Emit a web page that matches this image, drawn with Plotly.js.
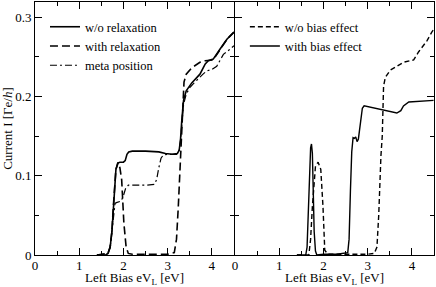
<!DOCTYPE html>
<html>
<head>
<meta charset="utf-8">
<script src="https://cdn.plot.ly/plotly-3.0.1.min.js"></script>
<style>html,body{margin:0;padding:0;background:#fff;}#chart{width:436px;height:287px;}</style>
</head>
<body>
<div id="chart"></div>
<script>
// Left panel: w/o relaxation (solid)
var xNoRelax = [1.4,1.6,1.65,1.7,1.74,1.77,1.8,1.83,1.87,1.92,2.0,2.04,2.08,2.12,2.2,2.5,2.8,2.95,3.1,3.22,3.26,3.29,3.32,3.36,3.42,3.545,3.73,3.85,3.92,4.03,4.19,4.34,4.5];
var yNoRelax = [0,0,0.002,0.01,0.03,0.06,0.09,0.108,0.116,0.117,0.117,0.119,0.127,0.13,0.131,0.131,0.13,0.128,0.127,0.128,0.132,0.145,0.17,0.195,0.207,0.217,0.228,0.241,0.245,0.247,0.26,0.272,0.281];
// Left panel: with relaxation (dashed)
var xRelax = [1.4,1.65,1.7,1.74,1.77,1.8,1.83,1.885,1.92,1.96,2.01,2.06,2.11,2.2,2.5,3.0,3.15,3.2,3.24,3.28,3.31,3.34,3.37,3.42,3.545,3.73,3.85,4.03,4.19,4.34,4.5];
var yRelax = [0,0.002,0.01,0.03,0.06,0.09,0.108,0.117,0.11,0.095,0.04,0.0105,0.002,0.001,0.001,0.001,0.003,0.02,0.06,0.11,0.16,0.2,0.218,0.228,0.236,0.243,0.245,0.246,0.26,0.272,0.281];
// Left panel: meta position (dash-dot)
var xMeta = [1.4,1.65,1.7,1.74,1.77,1.81,1.84,1.9,1.95,2.0,2.05,2.11,2.2,2.5,2.7,2.75,2.8,2.85,2.9,3.0,3.2,3.26,3.29,3.32,3.36,3.42,3.5,3.6,3.7,3.8,3.88,4.0,4.11,4.2,4.26,4.4,4.5];
var yMeta = [0,0.002,0.01,0.03,0.05,0.065,0.066,0.067,0.068,0.075,0.084,0.088,0.088,0.088,0.089,0.095,0.11,0.122,0.126,0.127,0.127,0.132,0.145,0.168,0.19,0.203,0.211,0.217,0.223,0.228,0.232,0.234,0.238,0.246,0.253,0.259,0.264];
// Right panel: w/o bias effect (dashed)
var xNoBias = [1.4,1.67,1.71,1.75,1.82,1.88,1.94,1.99,2.03,2.1,2.5,3.0,3.15,3.21,3.25,3.28,3.3,3.33,3.36,3.4,3.51,3.81,4.04,4.15,4.34,4.45,4.5];
var yNoBias = [0,0,0.02,0.061,0.112,0.117,0.108,0.061,0.006,0.001,0.001,0.001,0.002,0.01,0.05,0.1,0.125,0.15,0.213,0.224,0.233,0.243,0.246,0.256,0.27,0.281,0.285];
// Right panel: with bias effect (solid)
var xBias = [1.4,1.6,1.63,1.66,1.69,1.71,1.73,1.75,1.77,1.79,1.82,1.85,2.0,2.3,2.55,2.58,2.61,2.64,2.67,2.7,2.73,2.76,2.79,2.82,2.85,2.88,2.92,3.0,3.2,3.4,3.66,3.75,3.81,3.93,4.2,4.49];
var yBias = [0,0,0.01,0.06,0.11,0.135,0.14,0.128,0.08,0.03,0.005,0,0.001,0.001,0.003,0.02,0.08,0.13,0.148,0.147,0.149,0.143,0.146,0.16,0.178,0.185,0.188,0.187,0.185,0.182,0.179,0.182,0.188,0.193,0.194,0.195];

var xTickVals = [0,1,2,3,4];
var yTickVals = [0,0.1,0.2,0.3];

var SERIF = '"Liberation Serif", serif';
var traces = [
  {x:xNoRelax, y:yNoRelax, name:'w/o relaxation', xaxis:'x', yaxis:'y', mode:'lines', line:{color:'#000', width:1.6, dash:'solid'}, legend:'legend'},
  {x:xRelax, y:yRelax, name:'with relaxation', xaxis:'x', yaxis:'y', mode:'lines', line:{color:'#000', width:1.6, dash:'8px,4px'}, legend:'legend'},
  {x:xMeta, y:yMeta, name:'meta position', xaxis:'x', yaxis:'y', mode:'lines', line:{color:'#000', width:1.2, dash:'7px,3px,2px,3px'}, legend:'legend'},
  {x:xNoBias, y:yNoBias, name:'w/o bias effect', xaxis:'x2', yaxis:'y2', mode:'lines', line:{color:'#000', width:1.4, dash:'5px,3px'}, legend:'legend2'},
  {x:xBias, y:yBias, name:'with bias effect', xaxis:'x2', yaxis:'y2', mode:'lines', line:{color:'#000', width:1.4, dash:'solid'}, legend:'legend2'}
];

function xax(domain, anchor){
  return {domain:domain, anchor:anchor, range:[0,4.5], tickvals:xTickVals, ticktext:xTickVals.map(String),
    ticks:'inside', ticklen:7, tickwidth:1, tickcolor:'#000', showline:true, linecolor:'#000', linewidth:1, mirror:'ticks',
    minor:{dtick:0.5, tick0:0, ticks:'inside', ticklen:4, tickcolor:'#000', tickwidth:1},
    ticklabelstandoff:-2,
    showgrid:false, zeroline:false, tickfont:{family:SERIF, size:13, color:'#000'},
    title:{text:'Left Bias eV<sub>L</sub> [eV]', font:{family:SERIF, size:13, color:'#000'}, standoff:6}};
}
function yax(anchor, labels){
  return {anchor:anchor, domain:[0,1], range:[0,0.319], tickvals:yTickVals, ticktext:['0','0.1','0.2','0.3'],
    showticklabels:labels,
    ticks:'inside', ticklen:7, tickwidth:1, tickcolor:'#000', showline:true, linecolor:'#000', linewidth:1, mirror:'ticks',
    minor:{dtick:0.05, tick0:0, ticks:'inside', ticklen:4, tickcolor:'#000', tickwidth:1},
    showgrid:false, zeroline:false, tickfont:{family:SERIF, size:13, color:'#000'},
    title: labels ? {text:'Current I [Γe/<i>h</i>]', font:{family:SERIF, size:13, color:'#000'}, standoff:3} : {text:''}};
}

var layout = {
  width:436, height:287,
  margin:{l:35, r:2, t:2, b:32},
  paper_bgcolor:'#fff', plot_bgcolor:'#fff',
  font:{family:SERIF, color:'#000', size:13},
  xaxis: xax([0,0.4987],'y'),
  xaxis2: xax([0.5012,1],'y2'),
  yaxis: yax('x', true),
  yaxis2: yax('x2', false),
  showlegend:true,
  legend:{x:0.025, y:0.96, xanchor:'left', yanchor:'top', bgcolor:'rgba(0,0,0,0)', font:{family:SERIF, size:12.5, color:'#000'}, tracegroupgap:0},
  legend2:{x:0.526, y:0.96, xanchor:'left', yanchor:'top', bgcolor:'rgba(0,0,0,0)', font:{family:SERIF, size:12.5, color:'#000'}, tracegroupgap:0}
};

Plotly.newPlot('chart', traces, layout, {displayModeBar:false, staticPlot:true});
</script>
</body>
</html>
